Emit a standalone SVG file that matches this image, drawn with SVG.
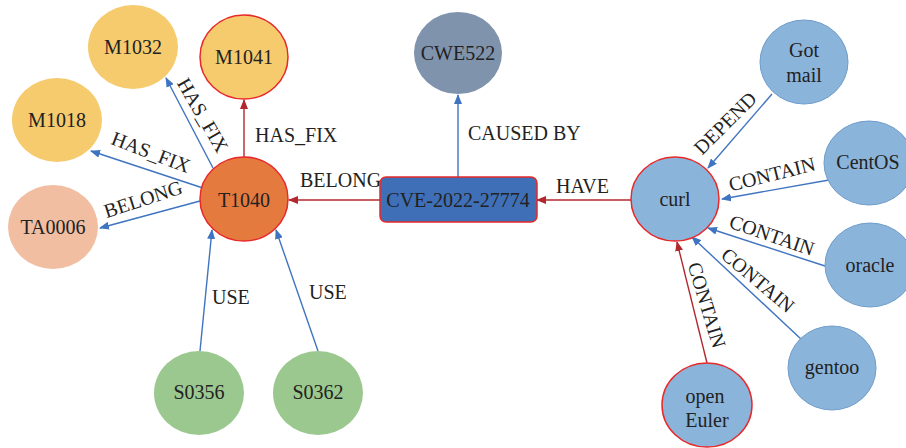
<svg xmlns="http://www.w3.org/2000/svg" width="906" height="448" viewBox="0 0 906 448">
<defs>
<marker id="ab" markerWidth="10" markerHeight="8" refX="9" refY="4" orient="auto" markerUnits="userSpaceOnUse"><path d="M0,0 L10,4 L0,8 Z" fill="#3F74C0"/></marker>
<marker id="ar" markerWidth="10" markerHeight="8" refX="9" refY="4" orient="auto" markerUnits="userSpaceOnUse"><path d="M0,0 L10,4 L0,8 Z" fill="#B3282F"/></marker>
<style>
text{font-family:"Liberation Serif","Times New Roman",serif;font-size:20px;fill:#222;}
.n text{text-anchor:middle;dominant-baseline:central;}
.lb{text-anchor:middle;dominant-baseline:central;}
.eb{stroke:#3F74C0;stroke-width:1.4;fill:none;marker-end:url(#ab);}
.er{stroke:#B3282F;stroke-width:1.4;fill:none;marker-end:url(#ar);}
.y{fill:#F5CB6E;}
.bl{fill:#8BB4DA;}
.g{fill:#9BC88F;}
.rs{stroke:#E8292A;stroke-width:1.5;}
.bs{stroke:#6E9CCB;stroke-width:1;}
</style>
</defs>
<g id="connectors">
<line class="er" x1="244" y1="157" x2="244" y2="100"/>
<line class="eb" x1="213" y1="168" x2="166" y2="78"/>
<line class="eb" x1="215" y1="192" x2="91" y2="151"/>
<line class="eb" x1="200" y1="201" x2="100" y2="228"/>
<line class="er" x1="380" y1="200" x2="289" y2="200"/>
<line class="eb" x1="458" y1="177" x2="458" y2="95"/>
<line class="er" x1="631" y1="200" x2="537" y2="200"/>
<line class="eb" x1="772" y1="94" x2="708" y2="168"/>
<line class="eb" x1="829" y1="180" x2="722" y2="199"/>
<line class="eb" x1="825" y1="266" x2="708" y2="228"/>
<line class="eb" x1="802" y1="340" x2="692" y2="237"/>
<line class="er" x1="707" y1="363" x2="677" y2="242"/>
<line class="eb" x1="200" y1="351" x2="212" y2="230"/>
<line class="eb" x1="318" y1="351" x2="276" y2="230"/>
<text x="255" y="142">HAS_FIX</text>
<text class="lb" transform="translate(203,115) rotate(60)">HAS_FIX</text>
<text class="lb" transform="translate(151,152) rotate(21)">HAS_FIX</text>
<text class="lb" transform="translate(143,199) rotate(-18)">BELONG</text>
<text x="300" y="187">BELONG</text>
<text x="468" y="140">CAUSED BY</text>
<text x="556" y="193">HAVE</text>
<text class="lb" transform="translate(725,123) rotate(-45)">DEPEND</text>
<text class="lb" transform="translate(772,174) rotate(-14)">CONTAIN</text>
<text class="lb" transform="translate(772,235) rotate(19)">CONTAIN</text>
<text class="lb" transform="translate(758,280) rotate(40)">CONTAIN</text>
<text class="lb" transform="translate(707,305) rotate(73)">CONTAIN</text>
<text x="212" y="304">USE</text>
<text x="309" y="299">USE</text>
</g>
<g id="M1032" class="n"><ellipse cx="133" cy="47" rx="45" ry="42" class="y"/><text x="133" y="47">M1032</text></g>
<g id="M1041" class="n"><ellipse cx="244" cy="57" rx="44" ry="42" class="y rs"/><text x="244" y="57">M1041</text></g>
<g id="M1018" class="n"><ellipse cx="57" cy="120" rx="45" ry="42" class="y"/><text x="57" y="120">M1018</text></g>
<g id="TA0006" class="n"><ellipse cx="53" cy="227" rx="45" ry="42" fill="#F2BEA2"/><text x="53" y="227">TA0006</text></g>
<g id="T1040" class="n"><ellipse cx="244" cy="199" rx="44" ry="42" fill="#E57A3F" class="rs"/><text x="244" y="200">T1040</text></g>
<g id="CWE522" class="n"><ellipse cx="458" cy="53" rx="44" ry="41" fill="#7F93AD"/><text x="458" y="53">CWE522</text></g>
<g id="CVE" class="n"><rect x="380" y="177" width="157" height="45" rx="6" fill="#3F6FB6" class="rs"/><text x="458" y="200">CVE-2022-27774</text></g>
<g id="curl" class="n"><ellipse cx="675" cy="199" rx="44" ry="42" class="bl rs"/><text x="675" y="199">curl</text></g>
<g id="Gotmail" class="n"><ellipse cx="804" cy="62" rx="44" ry="42" class="bl bs"/><text x="804" y="50">Got</text><text x="804" y="75">mail</text></g>
<g id="CentOS" class="n"><ellipse cx="869" cy="163" rx="45" ry="42" class="bl bs"/><text x="868" y="162">CentOS</text></g>
<g id="oracle" class="n"><ellipse cx="870" cy="265" rx="45" ry="42" class="bl bs"/><text x="870" y="265">oracle</text></g>
<g id="gentoo" class="n"><ellipse cx="832" cy="368" rx="44" ry="42" class="bl bs"/><text x="832" y="367">gentoo</text></g>
<g id="openEuler" class="n"><ellipse cx="707" cy="405" rx="45" ry="42" class="bl rs"/><text x="705" y="396">open</text><text x="707" y="420">Euler</text></g>
<g id="S0356" class="n"><ellipse cx="199" cy="393" rx="45" ry="42" class="g"/><text x="199" y="392">S0356</text></g>
<g id="S0362" class="n"><ellipse cx="318" cy="393" rx="45" ry="42" class="g"/><text x="318" y="392">S0362</text></g>
</svg>
